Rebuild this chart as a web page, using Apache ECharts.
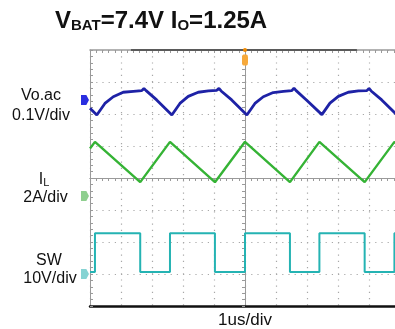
<!DOCTYPE html>
<html>
<head>
<meta charset="utf-8">
<script src="https://cdn.jsdelivr.net/npm/echarts@6/dist/echarts.min.js"></script>
<style>
html, body { margin: 0; padding: 0; background: #fff; }
#chart { width: 395px; height: 329px; }
</style>
</head>
<body>
<div id="chart"></div>
<script>
// time in us from the trigger (1us/div), level in divisions from screen centre
var voTime = [-5, -4.78, -4.52, -4.25, -3.93, -3.60, -3.33, -3.26, -3.19, -2.85, -2.36,
  -2.10, -1.83, -1.51, -1.18, -0.91, -0.84, -0.77, -0.43, 0.06,
  0.32, 0.59, 0.91, 1.24, 1.51, 1.58, 1.65, 1.99, 2.48,
  2.74, 3.01, 3.33, 3.66, 3.93, 4.00, 4.07, 4.41, 4.90, 5];
var voDiv = [2.18, 1.97, 2.33, 2.54, 2.68, 2.71, 2.73, 2.80, 2.73, 2.44, 1.97,
  2.33, 2.55, 2.68, 2.72, 2.74, 2.80, 2.72, 2.44, 1.97,
  2.33, 2.54, 2.67, 2.71, 2.73, 2.81, 2.73, 2.43, 1.98,
  2.34, 2.55, 2.68, 2.72, 2.73, 2.80, 2.72, 2.44, 1.97, 2.03];

var ilTime = [-5, -4.84, -3.38, -2.42, -0.97, 0, 1.45, 2.40, 3.86, 4.82, 5];
var ilDiv = [0.92, 1.13, -0.13, 1.13, -0.13, 1.13, -0.13, 1.13, -0.13, 1.13, 0.97];

var swTime = [-5, -4.84, -3.38, -2.42, -0.97, 0, 1.45, 2.40, 3.86, 4.82, 5];
var swDiv = [-2.94, -1.73, -2.94, -1.73, -2.94, -1.73, -2.94, -1.73, -2.94, -1.73, -1.73];

var markerDiv = [2.44, -0.56, -3.0];   // channel ground markers
var recordBar = [-3.68, 3.61];          // dark part of the top bar

function pairs(xs, ys) {
  return xs.map(function (x, i) { return [x, ys[i]]; });
}

var font = 'Liberation Sans, Arial, sans-serif';
var gray = '#9a9a9a';
var dots = '#a8a8a8';

function tag(y, color) {
  return {
    coord: [-5, y],
    symbol: 'path://M0,0 L6,0 L9,5 L6,10 L0,10 Z',
    symbolSize: [8, 10],
    symbolOffset: [-5, 0],
    itemStyle: { color: color }
  };
}

var centreX = {
  type: 'value', min: -5, max: 5, interval: 1,
  axisLine: { onZero: true, onZeroAxisIndex: 0, lineStyle: { color: gray, width: 1 } },
  axisTick: { show: true, length: 3, lineStyle: { color: gray } },
  minorTick: { show: true, splitNumber: 5, length: 3, lineStyle: { color: gray } },
  axisLabel: { show: false },
  splitLine: { show: true, lineStyle: { color: dots, width: 1.2, type: [1.2, 5] } }
};
var centreY = {
  type: 'value', min: -4, max: 4, interval: 1,
  axisLine: { onZero: true, onZeroAxisIndex: 0, lineStyle: { color: gray, width: 1 } },
  axisTick: { show: true, length: 3, lineStyle: { color: gray } },
  minorTick: { show: true, splitNumber: 5, length: 3, lineStyle: { color: gray } },
  axisLabel: { show: false },
  splitLine: { show: true, lineStyle: { color: dots, width: 1.2, type: [1.2, 5] } }
};

var option = {
  animation: false,
  backgroundColor: '#fff',
  title: {
    text: '{m|V}{s|BAT}{m|=7.4V I}{s|O}{m|=1.25A}',
    left: 55, top: 9, padding: 0,
    textStyle: {
      rich: {
        m: { fontSize: 24, fontWeight: 'bold', fontFamily: font, color: '#111', lineHeight: 24, verticalAlign: 'bottom' },
        s: { fontSize: 15, fontWeight: 'bold', fontFamily: font, color: '#111', lineHeight: 15, verticalAlign: 'bottom' }
      }
    }
  },
  grid: { left: 90, top: 50, width: 310, height: 256, outerBoundsMode: 'none' },
  xAxis: [
    centreX,
    echarts.util.merge({ axisTick: { inside: true }, splitLine: { show: false } }, centreX),
    {
      type: 'value', min: -5, max: 5, position: 'bottom',
      axisLine: { onZero: false, lineStyle: { color: '#111', width: 2.5 } },
      axisTick: { show: false }, axisLabel: { show: false }, splitLine: { show: false },
      name: '1us/div', nameLocation: 'middle', nameGap: 6,
      nameTextStyle: { fontSize: 17, fontFamily: font, color: '#111', verticalAlign: 'top' }
    },
    {
      type: 'value', min: -5, max: 5, interval: 1, position: 'top',
      axisLine: { onZero: false, lineStyle: { color: gray, width: 1.5 } },
      axisTick: { show: true, inside: true, length: 3, lineStyle: { color: gray } },
      minorTick: { show: true, splitNumber: 5, length: 3, lineStyle: { color: gray } },
      axisLabel: { show: false }, splitLine: { show: false }
    }
  ],
  yAxis: [
    centreY,
    echarts.util.merge({ axisTick: { inside: true }, splitLine: { show: false } }, centreY),
    {
      type: 'value', min: -4, max: 4, interval: 1, position: 'left',
      axisLine: { onZero: false, lineStyle: { color: gray, width: 1 } },
      axisTick: { show: true, inside: true, length: 3, lineStyle: { color: gray } },
      minorTick: { show: true, splitNumber: 5, length: 3, lineStyle: { color: gray } },
      axisLabel: { show: false }, splitLine: { show: false }
    }
  ],
  graphic: [
    { type: 'text', x: 41, y: 96, style: { text: 'Vo.ac', font: '16px ' + font, fill: '#111', textAlign: 'center', textVerticalAlign: 'middle' } },
    { type: 'text', x: 41, y: 115.5, style: { text: '0.1V/div', font: '16px ' + font, fill: '#111', textAlign: 'center', textVerticalAlign: 'middle' } },
    { type: 'text', x: 44, y: 180, style: { text: '{i|I}{l|L}', textAlign: 'center', textVerticalAlign: 'middle',
        rich: { i: { fontSize: 16, fontFamily: font, fill: '#111', lineHeight: 16, verticalAlign: 'bottom' },
                l: { fontSize: 11, fontFamily: font, fill: '#111', lineHeight: 11, verticalAlign: 'bottom' } } } },
    { type: 'text', x: 45.5, y: 197.7, style: { text: '2A/div', font: '16px ' + font, fill: '#111', textAlign: 'center', textVerticalAlign: 'middle' } },
    { type: 'text', x: 49, y: 261, style: { text: 'SW', font: '16px ' + font, fill: '#111', textAlign: 'center', textVerticalAlign: 'middle' } },
    { type: 'text', x: 50, y: 279, style: { text: '10V/div', font: '16px ' + font, fill: '#111', textAlign: 'center', textVerticalAlign: 'middle' } }
  ],
  series: [
    {
      name: 'Vo.ac', type: 'line', data: pairs(voTime, voDiv), showSymbol: false,
      lineStyle: { color: '#1e22a6', width: 2.8 },
      markPoint: { silent: true, label: { show: false }, data: [tag(markerDiv[0], '#2a2ee0')] }
    },
    {
      name: 'IL', type: 'line', data: pairs(ilTime, ilDiv), showSymbol: false,
      lineStyle: { color: '#35b335', width: 2.4 },
      markPoint: { silent: true, label: { show: false }, data: [
        tag(markerDiv[1], '#8fcf8f'),
        { coord: [0, 4], symbol: 'circle', symbolSize: 4, itemStyle: { color: '#f08a00' } },
        { coord: [0, 4], symbol: 'roundRect', symbolSize: [6, 11], symbolOffset: [0, 10], itemStyle: { color: '#f7a93a' } }
      ] },
      markLine: { silent: true, symbol: 'none', label: { show: false },
        lineStyle: { color: '#5a5a5a', width: 2, type: 'solid' },
        data: [[{ coord: [recordBar[0], 4] }, { coord: [recordBar[1], 4] }]] }
    },
    {
      name: 'SW', type: 'line', data: pairs(swTime, swDiv), showSymbol: false, step: 'end',
      lineStyle: { color: '#25b3b3', width: 2 },
      markPoint: { silent: true, label: { show: false }, data: [tag(markerDiv[2], '#86d3d3')] }
    }
  ]
};

var chart = echarts.init(document.getElementById('chart'), null, { renderer: 'canvas' });
chart.setOption(option);
</script>
</body>
</html>
